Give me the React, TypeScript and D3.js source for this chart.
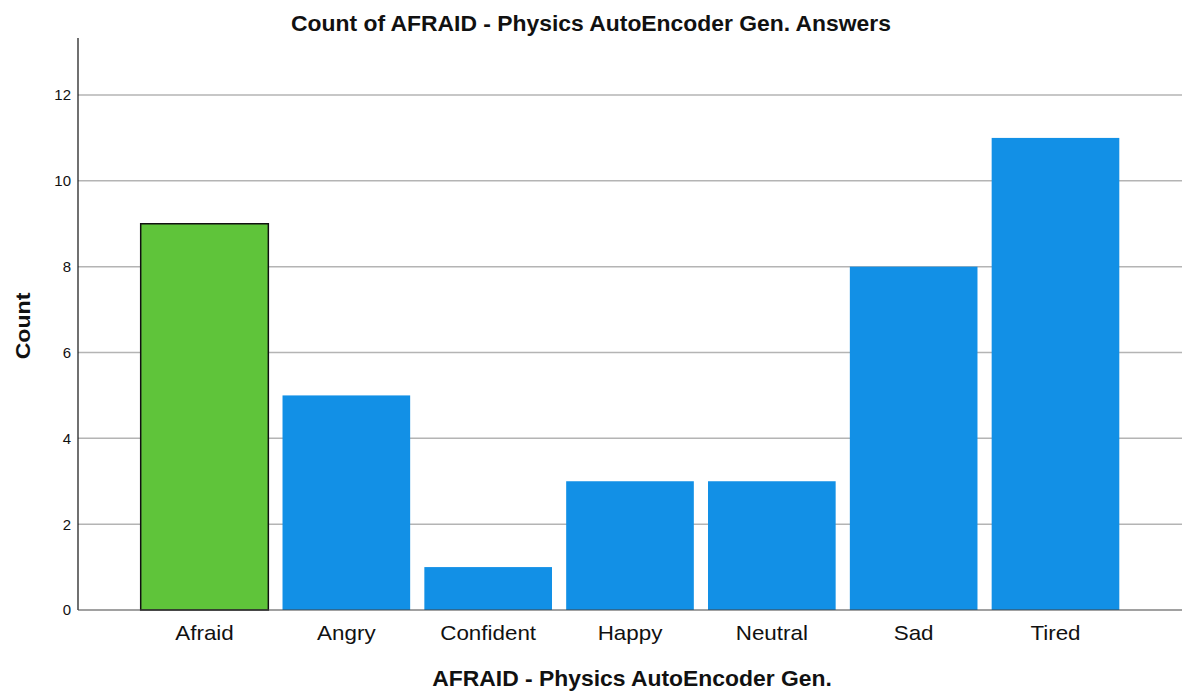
import React from "react";
import * as d3 from "d3";

const categories = ["Afraid", "Angry", "Confident", "Happy", "Neutral", "Sad", "Tired"];
const counts = [9, 5, 1, 3, 3, 8, 11];
const yTicks = [0, 2, 4, 6, 8, 10, 12];
const highlighted = ["Afraid"];

export default function App() {
  const W = 1187, H = 695;
  const axisX = 78, right = 1182, baseY = 610, topY = 38;
  const y = d3.scaleLinear().domain([0, 12]).range([baseY, 95]);
  const x = d3.scaleBand().domain(categories).range([133.6, 1126.4]).paddingInner(0.1).paddingOuter(0.05);
  const font = "Arial, 'Liberation Sans', sans-serif";
  return (
    <svg width={W} height={H} style={{ position: "absolute", left: 0, top: 0 }} fontFamily={font}>
      <rect width={W} height={H} fill="#fff" />
      {yTicks.filter(t => t > 0).map(t => (
        <line key={t} x1={axisX} x2={right} y1={y(t)} y2={y(t)} stroke="#b4b4b4" strokeWidth={1.5} />
      ))}
      {categories.map((c, i) => {
        const hl = highlighted.includes(c);
        return (
          <rect key={c} x={x(c)} y={y(counts[i])} width={x.bandwidth()} height={baseY - y(counts[i])}
            fill={hl ? "#5fc43a" : "#1290e6"} stroke={hl ? "#111" : "none"} strokeWidth={hl ? 1.5 : 0} />
        );
      })}
      <line x1={axisX} x2={axisX} y1={topY} y2={baseY} stroke="#111" strokeWidth={1.2} />
      <line x1={axisX} x2={right} y1={baseY} y2={baseY} stroke="#444" strokeWidth={1.2} />
      {yTicks.map(t => (
        <text key={t} x={71} y={y(t)} dy="0.36em" textAnchor="end" fontSize={15} fill="#111">{t}</text>
      ))}
      {categories.map(c => (
        <text key={c} transform={`translate(${(x(c) as number) + x.bandwidth() / 2},640) scale(1.12,1)`}
          textAnchor="middle" fontSize={20} fill="#111">{c}</text>
      ))}
      <text transform="translate(591,30.5) scale(1.04,1)" textAnchor="middle" fontSize={22} fontWeight="bold" fill="#111">Count of AFRAID - Physics AutoEncoder Gen. Answers</text>
      <text transform="translate(632,686) scale(1.04,1)" textAnchor="middle" fontSize={22} fontWeight="bold" fill="#111">AFRAID - Physics AutoEncoder Gen.</text>
      <text transform="translate(30,326) rotate(-90) scale(1.1,1)" textAnchor="middle" fontSize={21} fontWeight="bold" fill="#111">Count</text>
    </svg>
  );
}
